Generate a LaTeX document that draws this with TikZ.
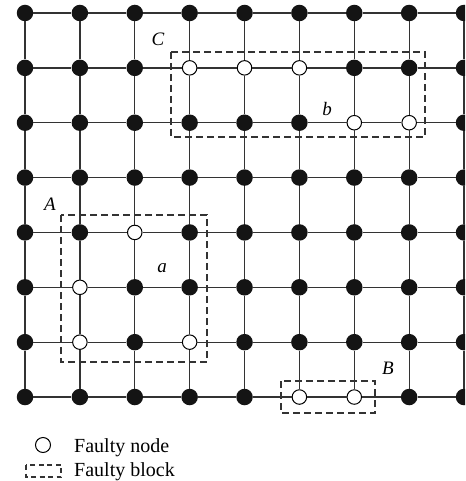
\documentclass[tikz,border=0pt]{standalone}
\usepackage{fontspec}
\setmainfont{Liberation Serif}
\begin{document}
\begin{tikzpicture}[x=1pt,y=-1pt,
  grid/.style={draw=black!80, line width=1.3pt},
  good/.style={circle, fill=black!92, inner sep=0pt, minimum size=16.5pt},
  faulty/.style={fill=white, draw=black, line width=1pt, minimum size=14.5pt},
  block/.style={draw=black!80, line width=1.3pt, dash pattern=on 7pt off 4pt},
  lbl/.style={font=\itshape\fontsize{19}{19}\selectfont, inner sep=0pt},
  legtext/.style={font=\fontsize{20}{20}\selectfont, anchor=base west, inner sep=0pt},
  st-3-1/.style={faulty}, st-4-1/.style={faulty}, st-5-1/.style={faulty},
  st-6-2/.style={faulty}, st-7-2/.style={faulty},
  st-2-4/.style={faulty}, st-1-5/.style={faulty},
  st-1-6/.style={faulty}, st-3-6/.style={faulty},
  st-5-7/.style={faulty}, st-6-7/.style={faulty}]
\useasboundingbox (0,0) rectangle (465,481);
\clip (0,0) rectangle (465,481);
% nodes
\foreach \i in {0,...,8} {
  \foreach \j in {0,...,7} {
    \node[good, st-\i-\j/.try] (n-\i-\j) at ({25+54.88*\i},{13+54.86*\j}) {};
  }
}
% horizontal links
\foreach \i in {0,...,7} {
  \pgfmathtruncatemacro{\k}{\i+1}
  \foreach \j in {0,...,7} {
    \draw[grid] (n-\i-\j) -- (n-\k-\j);
  }
}
% vertical links
\foreach \i in {0,...,8} {
  \foreach \j in {0,...,6} {
    \pgfmathtruncatemacro{\k}{\j+1}
    \draw[grid] (n-\i-\j) -- (n-\i-\k);
  }
}
% faulty blocks
\draw[block] (171,52) rectangle (425,137);
\draw[block] (61,215) rectangle (207,362);
\draw[block] (281,381) rectangle (375,413);
% labels
\node[lbl] (lC) at (158,39) {C};
\node[lbl] (lb) at (327,109) {b};
\node[lbl] (lA) at (50,204) {A};
\node[lbl] (la) at (162,268) {a};
\node[lbl] (lB) at (388,368) {B};
% legend
\node[circle, draw=black, line width=1pt, fill=white, inner sep=0pt, minimum size=15pt] (legnode) at (43,445) {};
\node[legtext] (legnodet) at (74,452) {Faulty node};
\draw[block, dash pattern=on 5pt off 3.5pt] (26,465) rectangle (61,477);
\node[legtext] (legblockt) at (74,476) {Faulty block};
\end{tikzpicture}
\end{document}
